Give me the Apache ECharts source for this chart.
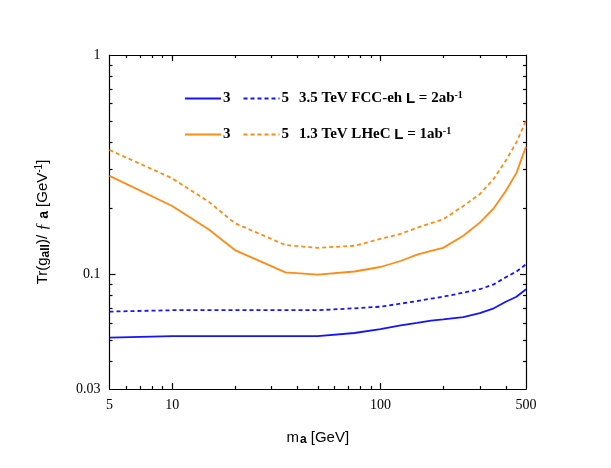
<!DOCTYPE html>
<html>
<head>
<meta charset="utf-8">
<script src="https://cdn.jsdelivr.net/npm/echarts@6/dist/echarts.min.js"></script>
<style>
  html, body { margin: 0; padding: 0; background: #fff; }
  #chart { width: 611px; height: 468px; }
</style>
</head>
<body>
<div id="chart"></div>
<script>
// axion mass grid [GeV]
const massGeV = [5, 10, 15, 20, 35, 50, 75, 100, 125, 150, 175, 200, 250, 300, 350, 400, 450, 500];
// FCC-eh 3.5 TeV, L = 2 ab^-1
const fcc3 = [0.0514, 0.0523, 0.0523, 0.0523, 0.0523, 0.0523, 0.054, 0.0562, 0.0585, 0.060, 0.0615, 0.0623, 0.0638, 0.0665, 0.070, 0.075, 0.079, 0.0855];
const fcc5 = [0.0676, 0.0686, 0.0686, 0.0686, 0.0686, 0.0686, 0.070, 0.0712, 0.0735, 0.0755, 0.0775, 0.079, 0.0825, 0.0855, 0.090, 0.097, 0.103, 0.111];
// LHeC 1.3 TeV, L = 1 ab^-1
const lhec3 = [0.281, 0.205, 0.160, 0.129, 0.102, 0.0997, 0.103, 0.108, 0.115, 0.123, 0.128, 0.132, 0.150, 0.172, 0.200, 0.240, 0.290, 0.382];
const lhec5 = [0.369, 0.274, 0.214, 0.171, 0.136, 0.132, 0.135, 0.145, 0.153, 0.163, 0.171, 0.178, 0.205, 0.232, 0.273, 0.330, 0.400, 0.502];

// tick labels / tick positions
const xLabels = [5, 10, 100, 500];
const xMajor = [10, 100];
const xMinor = [6, 7, 8, 9, 20, 30, 40, 50, 60, 70, 80, 90, 200, 300, 400];
const yLabels = [0.03, 0.1, 1];
const yMajor = [0.1];
const yMinor = [0.04, 0.05, 0.06, 0.07, 0.08, 0.09, 0.2, 0.3, 0.4, 0.5, 0.6, 0.7, 0.8, 0.9];

const BLUE = '#1414ff';
const ORANGE = '#ff8a14';
const serif = '"Liberation Serif", "DejaVu Serif", serif';
const sans = '"Liberation Sans", Arial, sans-serif';

function pairs(vals) {
  return massGeV.map((m, i) => [m, vals[i]]);
}

function makeAxis(kind, position, ticks, len, opts) {
  const ax = {
    type: 'log',
    logBase: 10,
    position: position,
    min: kind === 'x' ? 5 : 0.03,
    max: kind === 'x' ? 500 : 1,
    splitLine: { show: false },
    axisLine: { show: !!opts.line, onZero: false, lineStyle: { color: '#000', width: 1.2 } },
    axisTick: { show: true, inside: true, length: len, customValues: ticks, lineStyle: { color: '#000', width: 1.2 } },
    axisLabel: { show: false }
  };
  if (opts.labels) {
    ax.axisLabel = {
      show: true,
      customValues: opts.labels,
      color: '#000',
      fontFamily: serif,
      fontSize: 14,
      margin: 9,
      formatter: v => String(v)
    };
  }
  return ax;
}

const chart = echarts.init(document.getElementById('chart'));

const option = {
  backgroundColor: '#fff',
  animation: false,
  grid: { left: 109.5, right: 85, top: 55, bottom: 79, containLabel: false },
  xAxis: [
    Object.assign(makeAxis('x', 'bottom', xMajor, 6, { line: true, labels: xLabels }), {
      name: '{t|m}{b|a}{t| [GeV]}',
      nameLocation: 'middle',
      nameGap: 40,
      nameTextStyle: {
        rich: {
          t: { fontFamily: sans, fontSize: 15, color: '#000' },
          b: { fontFamily: sans, fontSize: 12, fontWeight: 'bold', color: '#000', padding: [5, 0, 0, 1] }
        }
      }
    }),
    makeAxis('x', 'bottom', xMinor, 3, {}),
    makeAxis('x', 'top', xMajor, 6, { line: true }),
    makeAxis('x', 'top', xMinor, 3, {})
  ],
  yAxis: [
    Object.assign(makeAxis('y', 'left', yMajor, 6, { line: true, labels: yLabels }), {
      name: '{t|Tr(g}{b|aII}{t|)/ }{i|ƒ}{b2| a}{t| [GeV}{s|-1}{t|]}',
      nameLocation: 'middle',
      nameGap: 58,
      nameRotate: 90,
      nameTextStyle: {
        rich: {
          t: { fontFamily: sans, fontSize: 15, color: '#000' },
          b: { fontFamily: sans, fontSize: 12, fontWeight: 'bold', color: '#000', padding: [5, 0, 0, 0] },
          i: { fontFamily: serif, fontSize: 16, fontStyle: 'italic', color: '#000' },
          b2: { fontFamily: sans, fontSize: 14, fontWeight: 'bold', color: '#000', padding: [3, 0, 0, 0] },
          s: { fontFamily: sans, fontSize: 10, color: '#000', padding: [0, 0, 7, 0] }
        }
      }
    }),
    makeAxis('y', 'left', yMinor, 3, {}),
    makeAxis('y', 'right', yMajor, 6, { line: true }),
    makeAxis('y', 'right', yMinor, 3, {})
  ],
  legend: [
    {
      data: ['FCC3', 'FCC5'],
      left: 184, top: 90
    },
    {
      data: ['LHeC3', 'LHeC5'],
      left: 184, top: 126
    }
  ].map(l => Object.assign(l, {
    orient: 'horizontal',
    itemWidth: 36,
    itemHeight: 10,
    itemGap: 12,
    padding: 0,
    itemStyle: { opacity: 0 },
    formatter: name => ({
      FCC3: '{n|3}',
      FCC5: '{n|5}   {t|3.5 TeV FCC-eh }{l|L}{t| = 2ab}{s|-1}',
      LHeC3: '{n|3}',
      LHeC5: '{n|5}   {t|1.3 TeV LHeC }{l|L}{t| = 1ab}{s|-1}'
    })[name],
    textStyle: {
      color: '#000',
      padding: [0, 0, 0, -3],
      rich: {
        n: { fontFamily: serif, fontSize: 15, fontWeight: 'bold', color: '#000' },
        t: { fontFamily: serif, fontSize: 15, fontWeight: 'bold', color: '#000' },
        l: { fontFamily: sans, fontSize: 15, fontWeight: 'bold', color: '#000' },
        s: { fontFamily: serif, fontSize: 10, fontWeight: 'bold', color: '#000', padding: [0, 0, 7, 0] }
      }
    }
  })),
  series: [
    { name: 'FCC3', type: 'line', data: pairs(fcc3), symbol: 'none', color: BLUE, lineStyle: { color: BLUE, width: 1.8 } },
    { name: 'FCC5', type: 'line', data: pairs(fcc5), symbol: 'none', color: BLUE, lineStyle: { color: BLUE, width: 1.8, type: [4, 3] } },
    { name: 'LHeC3', type: 'line', data: pairs(lhec3), symbol: 'none', color: ORANGE, lineStyle: { color: ORANGE, width: 1.8 } },
    { name: 'LHeC5', type: 'line', data: pairs(lhec5), symbol: 'none', color: ORANGE, lineStyle: { color: ORANGE, width: 1.8, type: [4, 3] } }
  ]
};

option && chart.setOption(option);
</script>
</body>
</html>
